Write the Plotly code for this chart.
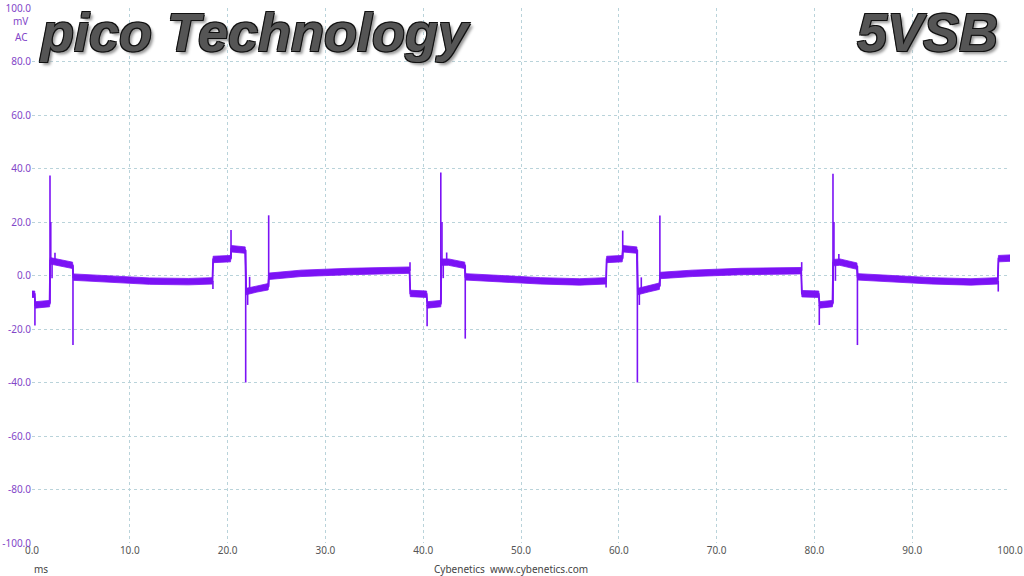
import plotly.graph_objects as go

# ---- data (time in ms, voltage in mV AC) ----
band_t = [0.0, 0.28, 0.32, 1.8, 1.86, 2.6, 4.15, 4.22, 8.0, 12.0, 16.0, 18.45, 18.52,
          20.3, 20.38, 21.8, 21.9, 23.0, 24.15, 24.22, 27.5, 32.5, 38.6, 38.68, 40.35, 40.42,
          41.8, 41.86, 42.6, 44.25, 44.32, 48.0, 52.0, 56.0, 58.7, 58.76,
          60.35, 60.42, 61.85, 61.95, 63.0, 64.15, 64.22, 67.5, 72.5, 78.65, 78.72, 80.45, 80.52,
          81.85, 81.92, 82.6, 84.35, 84.42, 88.0, 92.0, 96.0, 98.75, 98.82, 100.0]
band_v = [-7.0, -7.0, -11.0, -10.5, 5.5, 5.0, 3.8, -0.6, -1.3, -2.1, -2.3, -2.0, 6.0,
          6.3, 10.0, 9.5, -6.0, -5.0, -4.2, -0.3, 0.8, 1.5, 2.0, -6.7, -7.0, -11.0,
          -10.5, 5.0, 5.0, 3.8, -0.5, -1.2, -2.0, -2.4, -2.0, 6.0,
          6.3, 10.0, 9.5, -6.0, -5.0, -4.0, 0.0, 0.8, 1.5, 1.8, -6.8, -7.0, -11.0,
          -10.5, 4.8, 5.0, 3.5, -0.5, -1.2, -2.0, -2.4, -2.0, 6.3, 6.5]
band_half_width = 1.2  # half thickness of the noise band, mV

spike_t = [0.30, 1.84, 1.92, 2.05, 2.35, 4.19, 18.5, 20.35, 21.85, 22.05, 22.25, 24.2, 38.65,
           40.4, 41.8, 41.92, 42.05, 42.4, 44.3, 58.7, 60.4, 61.9, 62.1, 62.3, 64.2, 78.7,
           80.5, 81.9, 82.0, 82.15, 82.5, 84.4, 98.8]
spike_base = [-9, -10.5, 5, 5, 5, 3.8, -2, 6.3, 9.5, -6, -6, -4.2, 1.8,
              -11, -10.5, 5, 5, 5, 3.8, -2, 6.3, 9.5, -6, -6, -4, 1.8,
              -11, -10.5, 5, 5, 5, 3.5, -2]
spike_peak = [-18.7, 37.4, 20, -1, 8.5, -26, -5, 17, -40, -11, -0.5, 22.5, 5,
              -19, 38.5, 20, -1, 8.6, -23.6, -4.5, 16.8, -40, -11, -0.7, 22.4, 5,
              -18.5, 38, 20, -2, 8, -26, -6]

x_ticks = [0, 10, 20, 30, 40, 50, 60, 70, 80, 90, 100]
y_ticks = [-100, -80, -60, -40, -20, 0, 20, 40, 60, 80, 100]

wave_color = "#7b12f5"
tick_purple = "#8246c8"
grid_color = "#b9d3da"

# noise band polygon (upper edge forward, lower edge backward)
upper = [v + band_half_width for v in band_v]
lower = [v - band_half_width for v in band_v]
poly_x = band_t + band_t[::-1]
poly_y = upper + lower[::-1]

sx, sy = [], []
for t, b, p in zip(spike_t, spike_base, spike_peak):
    sx += [t, t, None]
    sy += [b, p, None]

fig = go.Figure()
fig.add_trace(go.Scatter(x=poly_x, y=poly_y, mode="lines", fill="toself",
                         fillcolor=wave_color, line=dict(color=wave_color, width=0.8),
                         hoverinfo="skip"))
fig.add_trace(go.Scatter(x=band_t, y=band_v, mode="lines",
                         line=dict(color=wave_color, width=1.8), hoverinfo="skip"))
fig.add_trace(go.Scatter(x=sx, y=sy, mode="lines",
                         line=dict(color=wave_color, width=1.6), hoverinfo="skip"))

fig.update_layout(
    width=1024, height=576,
    margin=dict(l=32, r=14, t=8, b=33),
    paper_bgcolor="white", plot_bgcolor="white",
    showlegend=False,
    font=dict(family="Noto Sans", size=10, color="#555555"),
)
fig.update_xaxes(range=[0, 100], tickvals=x_ticks,
                 ticktext=[f"{v:.1f}" for v in x_ticks], automargin=False,
                 showgrid=True, gridcolor=grid_color, griddash="dot", gridwidth=1,
                 zeroline=False, showline=False, ticks="",
                 tickfont=dict(family="Noto Sans", size=10, color="#555555"))
fig.update_yaxes(range=[-100, 100], tickvals=y_ticks,
                 ticktext=[f"{v:.1f}" for v in y_ticks], automargin=False,
                 showgrid=True, gridcolor=grid_color, griddash="dot", gridwidth=1,
                 zeroline=False, showline=False, ticks="",
                 tickfont=dict(family="Noto Sans", size=10, color=tick_purple))

title_font = dict(family="Liberation Sans", size=54, color="#555555",
                  weight="bold", style="italic",
                  shadow="1px 1px 0 #111, -1px -1px 0 #111, 1px -1px 0 #111, -1px 1px 0 #111, 3px 3px 3px #999")
fig.add_annotation(text="pico Technology", xref="paper", yref="paper",
                   x=0, y=1, xanchor="left", yanchor="top", xshift=5, yshift=8,
                   showarrow=False, font=title_font)
fig.add_annotation(text="5VSB", xref="paper", yref="paper",
                   x=1, y=1, xanchor="right", yanchor="top", xshift=-10, yshift=8,
                   showarrow=False, font=title_font)

unit_font = dict(family="Noto Sans", size=10, color=tick_purple)
fig.add_annotation(text="mV", xref="paper", yref="y", x=0, y=95.1,
                   xanchor="right", xshift=-2, showarrow=False, font=unit_font)
fig.add_annotation(text="AC", xref="paper", yref="y", x=0, y=89.2,
                   xanchor="right", xshift=-2, showarrow=False, font=unit_font)

foot_font = dict(family="Noto Sans", size=10, color="#444444")
fig.add_annotation(text="ms", xref="paper", yref="paper", x=0, y=0,
                   xanchor="left", yanchor="middle", xshift=0, yshift=-26,
                   showarrow=False, font=foot_font)
fig.add_annotation(text="Cybenetics&nbsp;&nbsp;www.cybenetics.com", xref="paper", yref="paper",
                   x=0.49, y=0, xanchor="center", yanchor="middle", yshift=-26,
                   showarrow=False, font=foot_font)

fig.write_html("out.html", config={"displayModeBar": False},
               post_script="document.body.style.margin='0';document.body.style.overflow='hidden';")
